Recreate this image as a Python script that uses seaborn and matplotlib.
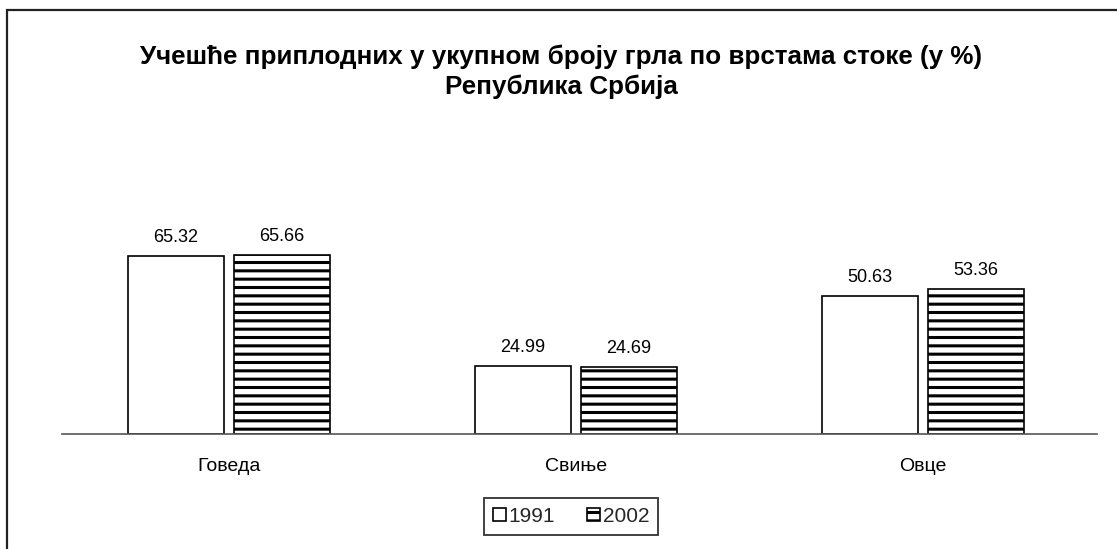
import matplotlib
matplotlib.use("Agg")
import matplotlib.pyplot as plt
import seaborn as sns
import pandas as pd
from matplotlib.patches import Rectangle, Patch

categories = ['Говеда', 'Свиње', 'Овце']
years = ['1991', '2002']
v1991 = [65.32, 24.99, 50.63]
v2002 = [65.66, 24.69, 53.36]
title = 'Учешће приплодних у укупном броју грла по врстама стоке (у %)\nРепублика Србија'

df = pd.DataFrame({
    'cat': categories * 2,
    'year': [years[0]] * 3 + [years[1]] * 3,
    'val': v1991 + v2002,
})

sns.set_theme(style='white')
plt.rcParams['font.family'] = ['Liberation Sans', 'DejaVu Sans']
plt.rcParams['hatch.color'] = '#333333'
plt.rcParams['hatch.linewidth'] = 2.2

W, H = 1117, 549
fig = plt.figure(figsize=(W / 100, H / 100), dpi=100)
fig.patch.set_facecolor('white')

ax_left = 55.5
ax_w = 1041
ax = fig.add_axes([ax_left / W, (H - 434) / H, ax_w / W, 190.8 / H])
sns.barplot(data=df, x='cat', y='val', hue='year', palette=['white', 'white'],
            edgecolor='black', linewidth=1.2, width=0.611, gap=0.094,
            legend=False, ax=ax, saturation=1)

for p in ax.containers[1]:
    p.set_hatch('--')

for c in ax.containers:
    ax.bar_label(c, fmt='%.2f', padding=7, fontsize=13, color='black')

ax.set_ylim(0, 70)
ax.set_xlim(-0.5, 2.5)
ax.set_xlabel('')
ax.set_ylabel('')
ax.set_yticks([])
ax.tick_params(axis='x', length=0, pad=17, labelsize=14, colors='black')
for s in ['top', 'right', 'left']:
    ax.spines[s].set_visible(False)
ax.spines['bottom'].set_color('#555555')
ax.spines['bottom'].set_linewidth(1.2)
ax.spines['bottom'].set_bounds((62 - ax_left) / (ax_w / 3) - 0.5,
                               (1097 - ax_left) / (ax_w / 3) - 0.5)
ax.set_facecolor('none')

fig.text(561 / W, 1 - 72 / H, title, ha='center', va='center', fontsize=18.7,
         fontweight='bold', linespacing=1.27, color='black')

handles = [Patch(facecolor='white', edgecolor='black', linewidth=1.2, label=years[0]),
           Patch(facecolor='white', edgecolor='black', linewidth=1.2, hatch='--', label=years[1])]
leg = fig.legend(handles=handles, loc='center', bbox_to_anchor=(571 / W, 1 - 516.5 / H),
                 ncol=2, frameon=True, fancybox=False, fontsize=15,
                 handlelength=0.62, handleheight=0.62, handletextpad=0.15,
                 columnspacing=1.5, borderpad=0.42)
leg.get_frame().set_edgecolor('black')
leg.get_frame().set_linewidth(1.3)

fig.patches.append(Rectangle((7 / W, -0.1), 1.2, (H - 10) / H + 0.1,
                             transform=fig.transFigure, fill=False,
                             edgecolor='#222222', linewidth=1.6, zorder=0))

fig.savefig('out.png', dpi=100, facecolor='white')
